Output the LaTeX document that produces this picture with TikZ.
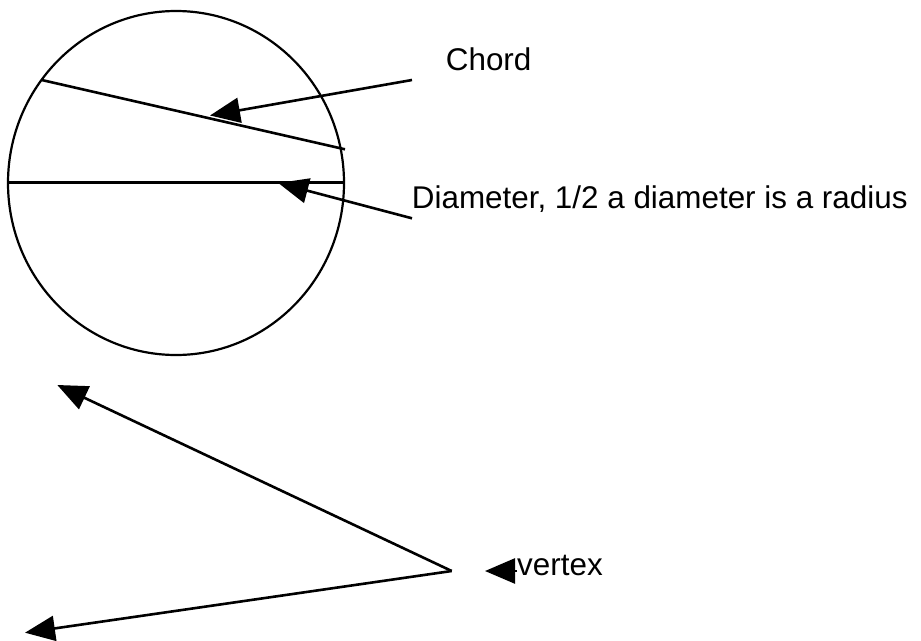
\documentclass[tikz,border=0pt]{standalone}
\usepackage{fontspec}
\setmainfont{Liberation Sans}
\usetikzlibrary{arrows.meta}
\begin{document}
\begin{tikzpicture}[x=1pt,y=-1pt,
  ln/.style={line width=2.6pt,line cap=butt},
  arr/.style={ln,-{Triangle[length=30pt,width=25pt]}},
  lbl/.style={anchor=base west,inner sep=0pt,font=\fontsize{31.4pt}{36pt}\selectfont}]
\useasboundingbox (0,0) rectangle (921,640);
% circle
\draw[line width=2.2pt] (176,183) ellipse [x radius=168, y radius=172];
% chord and diameter
\coordinate (c1) at (41.7,80);
\coordinate (c2) at (345,149.3);
\draw[ln] (c1) -- (c2);
\coordinate (d1) at (8.3,182.7);
\coordinate (d2) at (344.5,182.7);
\draw[ln] (d1) -- (d2);
% labels
\node[lbl] (chord) at (445.7,70) {Chord};
\node[lbl] (diam) at (411.7,208.3) {Diameter, 1/2 a diameter is a radius};
\node[lbl] (vtx) at (517,575) {vertex};
% label arrows
\coordinate (ca) at (412,80);
\coordinate (ct) at (210,115.5);
\draw[arr] (ca) -- (ct);
\coordinate (da) at (412,218.3);
\coordinate (dt) at (278.3,183);
\draw[arr] (da) -- (dt);
\coordinate (va) at (517,571);
\coordinate (vt) at (485,571);
\draw[arr] (va) -- (vt);
% angle
\coordinate (V) at (451.7,571);
\coordinate (r1) at (57.3,385);
\coordinate (r2) at (25,632.7);
\draw[arr] (V) -- (r1);
\draw[arr] (V) -- (r2);
\end{tikzpicture}
\end{document}
